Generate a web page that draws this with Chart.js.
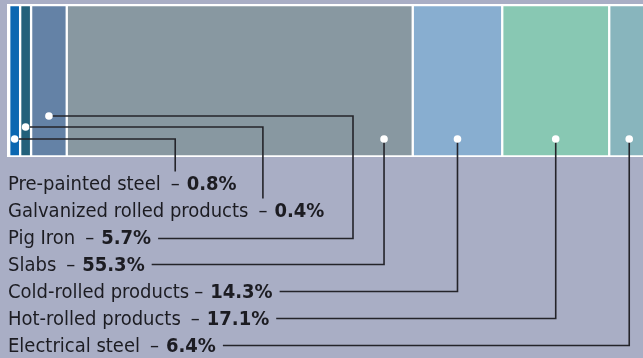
<!DOCTYPE html>
<html>
<head>
<meta charset="utf-8">
<script src="https://cdn.jsdelivr.net/npm/chart.js@4.4.0/dist/chart.umd.min.js"></script>
<style>
  html, body { margin: 0; padding: 0; background: #a9aec5; }
  #wrap { width: 643px; height: 358px; }
</style>
</head>
<body>
<div id="wrap"><canvas id="steelChart" width="643" height="358"></canvas></div>
<script>
// Shares of output, % (from the labels)
const categories = ['Pre-painted steel', 'Galvanized rolled products', 'Pig Iron', 'Slabs',
                    'Cold-rolled products', 'Hot-rolled products', 'Electrical steel'];
const shares = [0.8, 0.4, 5.7, 55.3, 14.3, 17.1, 6.4];
const segmentColors = ['#0b67b1', '#23617b', '#6482a6', '#8898a1', '#88aed0', '#88c8b3', '#88b5bd'];

// thin slices get a floor so they stay visible in the strip
const MIN_SHARE = 1.75;
const shown = shares.map(v => Math.max(v, MIN_SHARE));

// leader layout: where the dot sits inside its segment, and how high above the strip bottom
const anchorFrac = [0.5, 0.5, 0.5, 0.917, 0.5, 0.5, 0.5];
const dotLift = [17.5, 29.5, 40.5, 17.5, 17.5, 17.5, 17.5];
const PIG_ELBOW_X = 353;

const FONT_FAMILY = '"DejaVu Sans Condensed", "DejaVu Sans", sans-serif';
const TEXT_COLOR = '#1c1c22';
const LINE_COLOR = '#24242a';

const stripFrame = {
    id: 'stripFrame',
    beforeDraw(chart) {
        const c = chart.ctx;
        c.save();
        c.fillStyle = '#a9aec5';
        c.fillRect(0, 0, chart.width, chart.height);
        c.restore();
    },
    beforeDatasetsDraw(chart) {
        const a = chart.chartArea, c = chart.ctx;
        c.save();
        c.fillStyle = '#ffffff';
        c.fillRect(a.left - 2.2, a.top - 1, chart.width, a.bottom - a.top + 1.5);
        c.restore();
    }
};

const leaders = {
    id: 'leaders',
    afterDatasetsDraw(chart) {
        const c = chart.ctx;
        const xs = chart.scales.x;
        const bottom = chart.chartArea.bottom;
        let cum = 0;
        const dots = shown.map((v, i) => {
            const x = xs.getPixelForValue(cum + v * anchorFrac[i]);
            cum += v;
            return { x: x, y: bottom - dotLift[i] };
        });

        c.save();
        c.textBaseline = 'alphabetic';
        c.strokeStyle = LINE_COLOR;
        c.lineWidth = 1.6;

        categories.forEach((name, i) => {
            const y = 189.5 + i * 27;
            const gap = (i === 4) ? 5 : 10;
            c.fillStyle = TEXT_COLOR;
            c.font = '20px ' + FONT_FAMILY;
            c.fillText(name, 8, y);
            let x = 8 + c.measureText(name).width + gap;
            const dashW = c.measureText('–').width;
            c.fillText('–', x, y);
            const dashMid = x + dashW / 2;
            x += dashW + 7;
            c.font = 'bold 20px ' + FONT_FAMILY;
            const val = shares[i].toFixed(1) + '%';
            c.fillText(val, x, y);
            const end = x + c.measureText(val).width;

            const d = dots[i];
            c.beginPath();
            if (i < 2) {
                c.moveTo(d.x, d.y);
                c.lineTo(dashMid, d.y);
                c.lineTo(dashMid, y - 18);
            } else if (i === 2) {
                c.moveTo(d.x, d.y);
                c.lineTo(PIG_ELBOW_X, d.y);
                c.lineTo(PIG_ELBOW_X, y - 5);
                c.lineTo(end + 7, y - 5);
            } else {
                c.moveTo(end + 7, y - 6);
                c.lineTo(d.x, y - 6);
                c.lineTo(d.x, d.y);
            }
            c.stroke();
        });

        c.fillStyle = '#ffffff';
        dots.forEach(d => {
            c.beginPath();
            c.arc(d.x, d.y, 3.8, 0, Math.PI * 2);
            c.fill();
        });
        c.restore();
    }
};

const ctx = document.getElementById('steelChart');
new Chart(ctx.getContext('2d'), {
    type: 'bar',
    data: {
        labels: [''],
        datasets: categories.map((name, i) => ({
            label: name,
            data: [shown[i]],
            backgroundColor: segmentColors[i],
            borderColor: '#ffffff',
            borderWidth: 1.5,
            borderSkipped: false,
            barPercentage: 1,
            categoryPercentage: 1
        }))
    },
    options: {
        indexAxis: 'y',
        responsive: false,
        animation: false,
        layout: { padding: { left: 9.2, right: 0, top: 5, bottom: 201.5 } },
        plugins: {
            legend: { display: false },
            tooltip: { enabled: false }
        },
        scales: {
            x: { stacked: true, display: false, min: 0, max: 101.3 },
            y: { stacked: true, display: false }
        }
    },
    plugins: [stripFrame, leaders]
});
</script>
</body>
</html>
